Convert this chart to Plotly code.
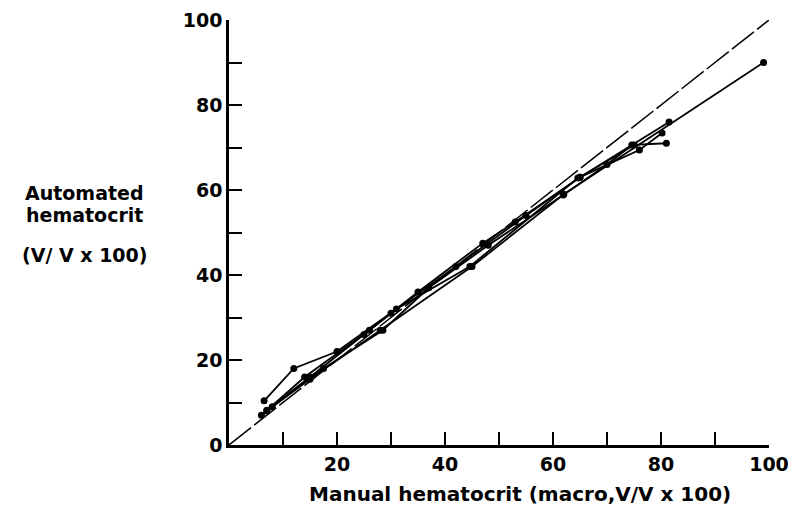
import plotly.graph_objects as go

# ---- data ----
identity_x = [0, 100]
identity_y = [0, 100]

s1_x = [7, 15, 28, 45, 62, 99]
s1_y = [8, 15.5, 27, 42, 59, 90]

s2_x = [6, 14, 26, 35, 47, 53, 65, 81.5]
s2_y = [7, 16, 27, 36, 47.5, 52.5, 63, 76]

s3_x = [6.5, 12, 20, 30, 42, 55, 65, 75, 81]
s3_y = [10.4, 18, 22, 31, 42, 54, 63, 70.6, 71]

s4_x = [7, 15, 25, 31, 44.6, 64.6, 76, 80.2]
s4_y = [8.2, 16, 26, 32, 42, 62.8, 69.4, 73.4]

s5_x = [8, 17.5, 28.5, 37, 48, 61.9, 70, 74.6]
s5_y = [9, 18, 27, 37, 47, 58.8, 66, 70.6]

tick_vals = [0, 10, 20, 30, 40, 50, 60, 70, 80, 90, 100]
x_tick_text = ["", "", "20", "", "40", "", "60", "", "80", "", "100"]
y_tick_text = ["0", "", "20", "", "40", "", "60", "", "80", "", "100"]

x_title = "Manual hematocrit (macro,V/V x 100)"
y_title_lines = ["Automated", "hematocrit", "(V/ V x 100)"]

FONT = "DejaVu Sans"

fig = go.Figure()

fig.add_trace(go.Scatter(
    x=identity_x, y=identity_y, mode="lines",
    line=dict(color="black", width=1.5, dash="28px,4px"),
    hoverinfo="skip", showlegend=False))

for xs, ys in [(s1_x, s1_y), (s2_x, s2_y), (s3_x, s3_y), (s4_x, s4_y), (s5_x, s5_y)]:
    fig.add_trace(go.Scatter(
        x=xs, y=ys, mode="lines+markers",
        line=dict(color="black", width=1.8),
        marker=dict(color="black", size=7),
        showlegend=False))

axis_common = dict(
    range=[0, 100], showline=True, linecolor="black", linewidth=2.5,
    showgrid=False, zeroline=False, ticks="inside", ticklen=13,
    tickwidth=2, tickcolor="black", tickvals=tick_vals, automargin=False,
    tickfont=dict(family=FONT, size=19, color="black", weight="bold"),
)

fig.update_layout(
    width=796, height=509,
    margin=dict(l=221, r=35, t=12, b=72),
    paper_bgcolor="white", plot_bgcolor="white",
    xaxis=dict(**axis_common, ticktext=x_tick_text),
    yaxis=dict(**axis_common, ticktext=y_tick_text),
)

# y-title lines placed to the left of the plot
for txt, yp in zip(y_title_lines, [0.593, 0.541, 0.447]):
    fig.add_annotation(text=txt, xref="paper", yref="paper",
                       x=-0.267, y=yp, showarrow=False, xanchor="center", yanchor="middle",
                       font=dict(family=FONT, size=19, color="black", weight="bold"))

fig.add_annotation(text=x_title, xref="paper", yref="paper",
                   x=0.539, y=-0.115, showarrow=False, xanchor="center", yanchor="middle",
                   font=dict(family=FONT, size=20, color="black", weight="bold"))

fig.write_html("out.html")
